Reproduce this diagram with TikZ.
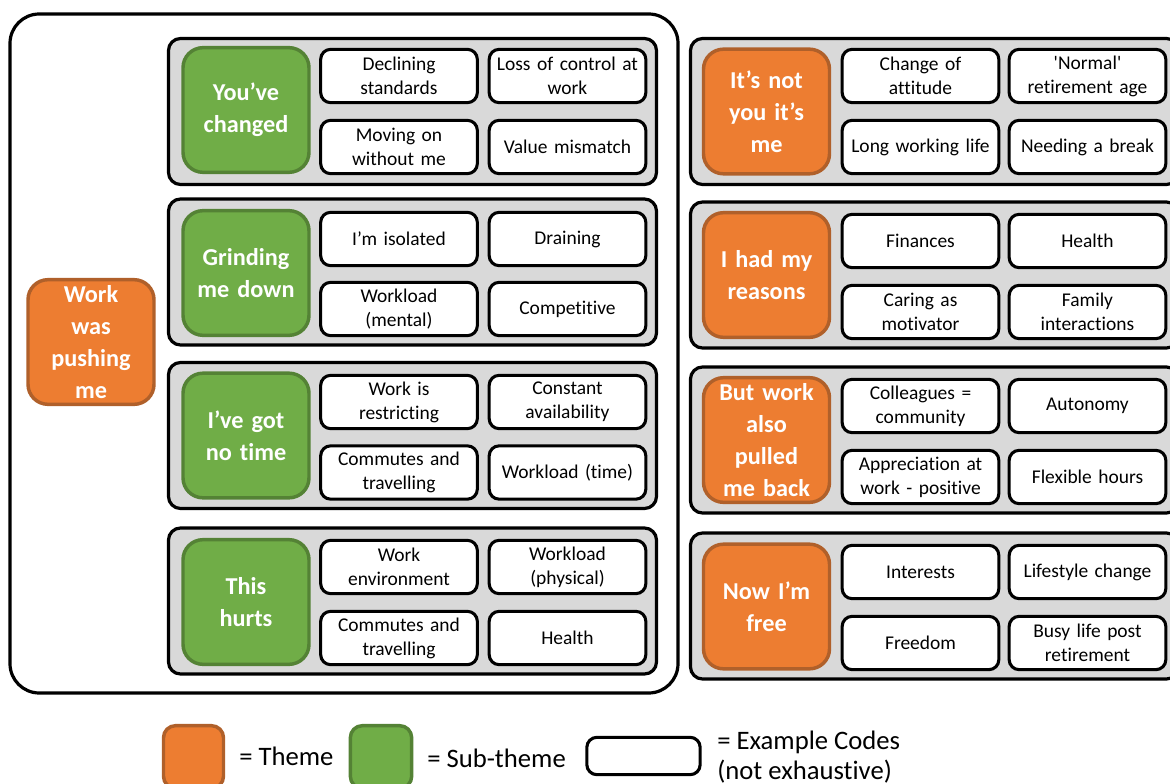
\documentclass[tikz,border=0pt]{standalone}
\usepackage{fontspec}
\setmainfont{Carlito}[Ligatures={NoCommon}]
\definecolor{themefill}{HTML}{ED7D31}
\definecolor{themeline}{HTML}{B0602A}
\definecolor{subfill}{HTML}{70AD47}
\definecolor{subline}{HTML}{548235}
\definecolor{panelfill}{HTML}{D9D9D9}
\tikzset{
  panel/.style={draw=black, fill=panelfill, line width=2.4pt, rounded corners=9pt,
    minimum width=366pt, minimum height=109.5pt, inner sep=0pt},
  codebox/.style={draw=black, fill=white, line width=2.3pt, rounded corners=7.5pt,
    minimum width=117.5pt, minimum height=40pt, inner sep=0pt, text width=116pt,
    align=center, font=\fontsize{14.6pt}{18pt}\selectfont},
  headbox/.style={line width=2.6pt, rounded corners=15pt, minimum width=94.5pt,
    minimum height=93.5pt, inner sep=0pt, text width=94pt, align=center,
    text=white, font=\bfseries\fontsize{18.2pt}{24pt}\selectfont},
  subtheme/.style={headbox, draw=subline, fill=subfill},
  theme/.style={headbox, draw=themeline, fill=themefill},
  legendtext/.style={anchor=west, inner sep=0pt, align=left,
    font=\fontsize{20pt}{22.5pt}\selectfont},
}
\begin{document}
\begin{tikzpicture}[x=0.75pt, y=-0.75pt]
\useasboundingbox (0,0) rectangle (1170,784);

% outer frame of the "pushing" theme
\draw[line width=2.4pt, rounded corners=22pt] (10,14) rectangle (678,693);
\node[theme] (push) at (91,342) {Work\\was\\pushing\\me};

% --- sub-themes of "Work was pushing me"
\node[panel] (p1) at (412.5,111.5) {};
\node[subtheme] (s1) at (246,110) {You’ve\\changed};
\node[codebox] (c11) at (399,76) {Declining\\standards};
\node[codebox] (c12) at (567.5,76) {Loss of control at\\work};
\node[codebox] (c13) at (399,147) {Moving on\\without me};
\node[codebox] (c14) at (567.5,147) {Value mismatch};

\node[panel] (p2) at (412.5,272) {};
\node[subtheme] (s2) at (246,273) {Grinding\\me down};
\node[codebox] (c21) at (399,239) {I’m isolated};
\node[codebox] (c22) at (567.5,239) {Draining};
\node[codebox] (c23) at (399,309) {Workload\\(mental)};
\node[codebox] (c24) at (567.5,309) {Competitive};

\node[panel] (p3) at (412.5,435.5) {};
\node[subtheme] (s3) at (246,435.5) {I’ve got\\no time};
\node[codebox] (c31) at (399,402) {Work is\\restricting};
\node[codebox] (c32) at (567.5,402) {Constant\\availability};
\node[codebox] (c33) at (399,472.5) {Commutes and\\travelling};
\node[codebox] (c34) at (567.5,472.5) {Workload (time)};

\node[panel] (p4) at (412.5,601) {};
\node[subtheme] (s4) at (246,602) {This\\hurts};
\node[codebox] (c41) at (399,567) {Work\\environment};
\node[codebox] (c42) at (567.5,567) {Workload\\(physical)};
\node[codebox] (c43) at (399,638) {Commutes and\\travelling};
\node[codebox] (c44) at (567.5,638) {Health};

% --- remaining themes
\node[panel] (r1) at (934.5,111.5) {};
\node[theme] (t1) at (766.5,111.5) {It’s not\\you it’s\\me};
\node[codebox] (d11) at (920.5,76) {Change of\\attitude};
\node[codebox] (d12) at (1087.5,76) {\textquotesingle Normal\textquotesingle\\retirement age};
\node[codebox] (d13) at (920.5,147) {Long working life};
\node[codebox] (d14) at (1087.5,147) {Needing a break};

\node[panel] (r2) at (934.5,275) {};
\node[theme] (t2) at (766.5,275) {I had my\\reasons};
\node[codebox] (d21) at (920.5,241) {Finances};
\node[codebox] (d22) at (1087.5,241) {Health};
\node[codebox] (d23) at (920.5,312) {Caring as\\motivator};
\node[codebox] (d24) at (1087.5,312) {Family\\interactions};

\node[panel] (r3) at (934.5,440) {};
\node[theme] (t3) at (766.5,440) {But work\\also\\pulled\\me back};
\node[codebox] (d31) at (920.5,406) {Colleagues =\\community};
\node[codebox] (d32) at (1087.5,406) {Autonomy};
\node[codebox] (d33) at (920.5,477) {Appreciation at\\work - positive};
\node[codebox] (d34) at (1087.5,477) {Flexible hours};

\node[panel] (r4) at (934.5,606) {};
\node[theme] (t4) at (766.5,606.5) {Now I’m\\free};
\node[codebox] (d41) at (920.5,572) {Interests};
\node[codebox] (d42) at (1087.5,572) {Lifestyle change};
\node[codebox] (d43) at (920.5,643) {Freedom};
\node[codebox] (d44) at (1087.5,643) {Busy life post\\retirement};

% --- legend
\node[theme, text width=44pt, minimum width=45pt, minimum height=47pt,
  rounded corners=9pt] (ltheme) at (193.5,757) {};
\node[legendtext] (lthemetxt) at (239,756) {= Theme};
\node[subtheme, text width=44pt, minimum width=46pt, minimum height=47pt,
  rounded corners=9pt] (lsub) at (381,757) {};
\node[legendtext] (lsubtxt) at (427,758) {= Sub-theme};
\node[codebox, text width=80pt, minimum width=85pt, minimum height=28pt] (lcode) at (643.5,756) {};
\node[legendtext] (lcodetxt) at (717,757) {= Example Codes\\(not exhaustive)};
\end{tikzpicture}
\end{document}
